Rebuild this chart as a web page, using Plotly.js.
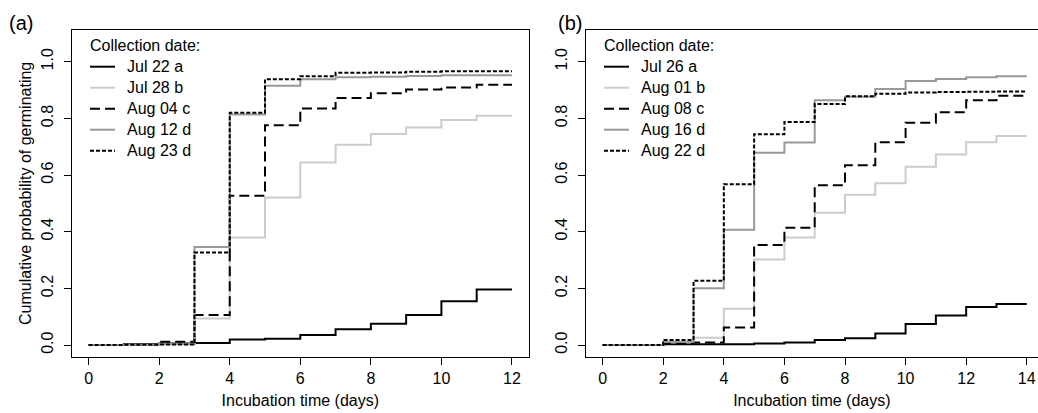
<!DOCTYPE html>
<html>
<head>
<meta charset="utf-8">
<script src="https://cdn.plot.ly/plotly-3.0.1.min.js"></script>
<style>html,body{margin:0;padding:0;background:#fff;}#chart{width:1038px;height:413px;}</style>
</head>
<body>
<div id="chart"></div>
<script>
// ---- Data ----
const daysA = [0,1,2,3,4,5,6,7,8,9,10,11,12];
const daysB = [0,1,2,3,4,5,6,7,8,9,10,11,12,13,14];
const namesA = ["Jul 22 a","Jul 28 b","Aug 04 c","Aug 12 d","Aug 23 d"];
const namesB = ["Jul 26 a","Aug 01 b","Aug 08 c","Aug 16 d","Aug 22 d"];
const jul22a = [0,0.004,0.006,0.007,0.020,0.022,0.036,0.056,0.075,0.106,0.155,0.196,0.196];
const jul28b = [0,0,0.003,0.094,0.380,0.521,0.644,0.707,0.745,0.768,0.794,0.809,0.809];
const aug04c = [0,0.002,0.012,0.106,0.527,0.776,0.835,0.872,0.889,0.902,0.909,0.919,0.919];
const aug12d = [0,0.002,0.004,0.346,0.814,0.915,0.938,0.945,0.947,0.950,0.952,0.952,0.952];
const aug23d = [0,0.001,0.002,0.327,0.820,0.938,0.949,0.961,0.962,0.965,0.966,0.966,0.966];
const jul26a = [0,0,0.003,0.003,0.003,0.006,0.009,0.018,0.024,0.041,0.074,0.104,0.134,0.145,0.145];
const aug01b = [0,0,0.010,0.026,0.128,0.302,0.380,0.467,0.531,0.571,0.629,0.673,0.716,0.738,0.738];
const aug08c = [0,0,0.006,0.009,0.062,0.353,0.414,0.564,0.635,0.716,0.785,0.822,0.864,0.880,0.880];
const aug16d = [0,0,0.012,0.201,0.407,0.679,0.715,0.864,0.876,0.904,0.932,0.939,0.945,0.949,0.949];
const aug22d = [0,0,0.018,0.227,0.568,0.744,0.787,0.851,0.878,0.887,0.891,0.893,0.894,0.895,0.895];
const xTicksA = [0,2,4,6,8,10,12];
const xTicksB = [0,2,4,6,8,10,12,14];
const yTicks = [0,0.2,0.4,0.6,0.8,1.0];
const yTickText = ["0.0","0.2","0.4","0.6","0.8","1.0"];

// ---- Styles ----
const FONT = "Liberation Sans, Arial, Helvetica, sans-serif";
const styles = [
  {color:"#000000", dash:"solid"},
  {color:"#cccccc", dash:"solid"},
  {color:"#000000", dash:"10px,5px"},
  {color:"#999999", dash:"solid"},
  {color:"#000000", dash:"4px,2px"}
];
const W = 1038, H = 413;
const px = x => x / W;
const py = y => 1 - y / H;

const seriesA = [jul22a, jul28b, aug04c, aug12d, aug23d];
const seriesB = [jul26a, aug01b, aug08c, aug16d, aug22d];
const traces = [];
seriesA.forEach((ys, i) => traces.push({
  x: daysA, y: ys, name: namesA[i], type: "scatter", mode: "lines",
  line: {shape: "hv", color: styles[i].color, dash: styles[i].dash, width: 2},
  xaxis: "x", yaxis: "y", hoverinfo: "skip"
}));
seriesB.forEach((ys, i) => traces.push({
  x: daysB, y: ys, name: namesB[i], type: "scatter", mode: "lines",
  line: {shape: "hv", color: styles[i].color, dash: styles[i].dash, width: 2},
  xaxis: "x2", yaxis: "y2", hoverinfo: "skip"
}));

// ---- Manual legends ----
const shapes = [], annotations = [];
function legend(x0, names) {
  annotations.push({xref:"paper", yref:"paper", x:px(x0 - 2), y:py(45.7), text:"Collection date:",
    showarrow:false, xanchor:"left", yanchor:"middle", font:{family:FONT, size:16, color:"#000"}});
  names.forEach((n, i) => {
    const yy = 66.7 + 21 * i;
    shapes.push({type:"line", xref:"paper", yref:"paper", x0:px(x0), x1:px(x0 + 25), y0:py(yy), y1:py(yy),
      line:{color:styles[i].color, dash:styles[i].dash, width:2}});
    annotations.push({xref:"paper", yref:"paper", x:px(x0 + 35), y:py(yy), text:n,
      showarrow:false, xanchor:"left", yanchor:"middle", font:{family:FONT, size:16, color:"#000"}});
  });
}
legend(90, namesA);
legend(604, namesB);
annotations.push({xref:"paper", yref:"paper", x:px(7), y:py(23), text:"(a)", showarrow:false,
  xanchor:"left", yanchor:"middle", font:{family:FONT, size:20, color:"#000"}});
annotations.push({xref:"paper", yref:"paper", x:px(556), y:py(23), text:"(b)", showarrow:false,
  xanchor:"left", yanchor:"middle", font:{family:FONT, size:20, color:"#000"}});

const tickFont = {family:FONT, size:16, color:"#000"};
const yDomain = [py(356.7), py(30)];
const yBase = {
  range:[-0.041, 1.112], domain:yDomain, tickvals:yTicks, ticktext:yTickText, tickangle:-90,
  ticks:"outside", ticklen:7, tickwidth:1, tickcolor:"#000", showline:true, linecolor:"#000", linewidth:1,
  showgrid:false, zeroline:false, tickfont:tickFont, ticklabelstandoff:4
};
const xBase = {
  ticks:"outside", ticklen:7, tickwidth:1, tickcolor:"#000", showline:true, linecolor:"#000", linewidth:1,
  showgrid:false, zeroline:false, tickfont:tickFont, tickangle:0,
  title:{text:"Incubation time (days)", font:{family:FONT, size:16, color:"#000"}, standoff:8}
};

const layout = {
  width: W, height: H, margin:{l:0, r:0, t:0, b:0}, showlegend:false,
  paper_bgcolor:"#fff", plot_bgcolor:"#fff",
  xaxis: Object.assign({}, xBase, {domain:[px(71.7), px(528.9)], range:[-0.48, 12.48], tickvals:xTicksA, mirror:true, anchor:"y"}),
  yaxis: Object.assign({}, yBase, {anchor:"x", mirror:true,
    title:{text:"Cumulative probability of germinating", font:{family:FONT, size:16, color:"#000"}, standoff:3}}),
  xaxis2: Object.assign({}, xBase, {domain:[px(585.7), 1], range:[-0.56, (1038 - 602.7) / 30.29], tickvals:xTicksB, mirror:true, anchor:"y2"}),
  yaxis2: Object.assign({}, yBase, {anchor:"x2", mirror:false}),
  shapes: shapes, annotations: annotations
};

Plotly.newPlot("chart", traces, layout, {staticPlot:true, displayModeBar:false});
</script>
</body>
</html>
